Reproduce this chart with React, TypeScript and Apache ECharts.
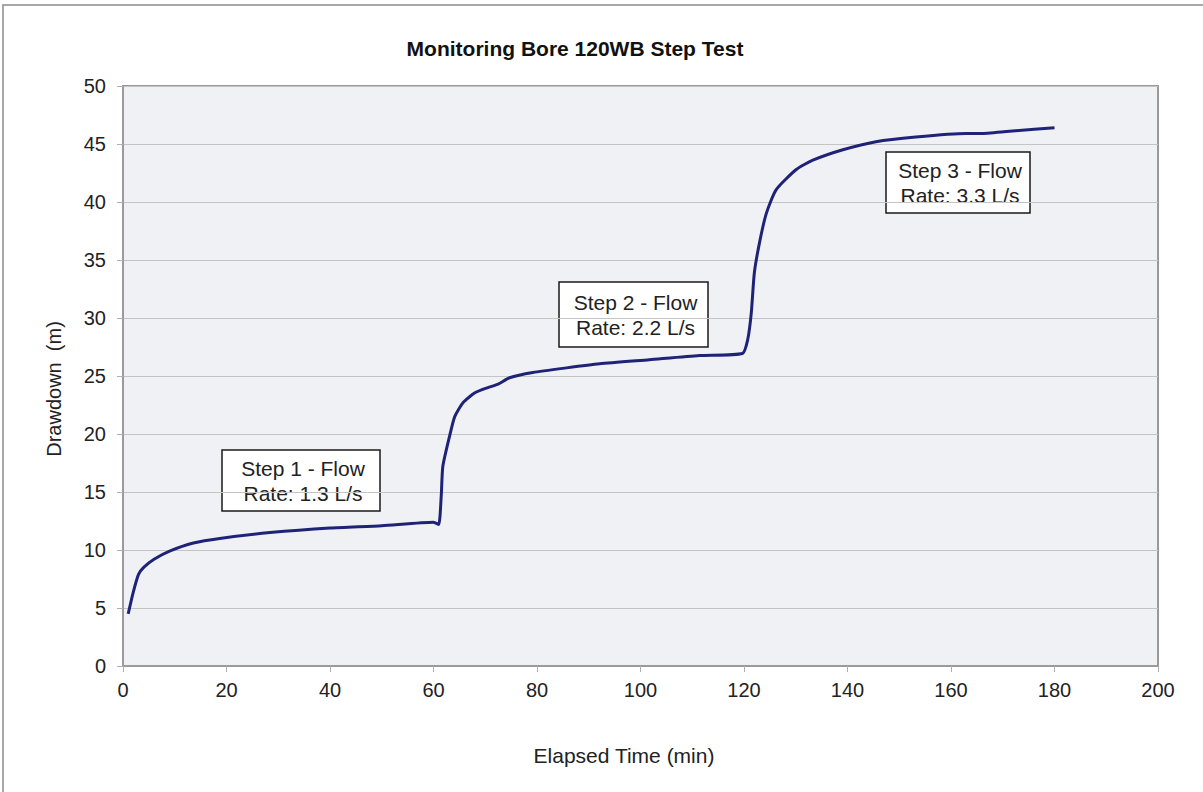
import React, { useEffect, useRef } from "react";
import * as echarts from "echarts";

const elapsedTime = [1, 2, 3, 4, 6, 9, 13.6, 18.7, 28.4, 40, 50, 60, 61, 61.5, 61.8, 63.1, 64.1, 65.7, 68, 70.5, 72.5, 74.7, 79.2, 85.7, 92.1, 101.7, 111.4, 119.7, 120.7, 121.4, 122, 123, 124.3, 126.2, 130.1, 133.3, 139.1, 145.5, 153.2, 162.9, 166, 172.5, 180];
const drawdown = [4.5, 6.4, 7.9, 8.5, 9.2, 9.9, 10.6, 11.0, 11.5, 11.9, 12.1, 12.4, 12.2, 14.7, 17.2, 19.8, 21.5, 22.7, 23.55, 24.0, 24.3, 24.85, 25.3, 25.7, 26.05, 26.4, 26.76, 26.94, 28.1, 30.4, 33.9, 36.5, 39.0, 41.05, 42.8, 43.6, 44.5, 45.2, 45.6, 45.9, 45.9, 46.15, 46.4];
const stepLabels = [
  ["Step 1 - Flow", "Rate: 1.3 L/s"],
  ["Step 2 - Flow", "Rate: 2.2 L/s"],
  ["Step 3 - Flow", "Rate: 3.3 L/s"],
];
const titleText = "Monitoring Bore 120WB Step Test";
const xName = "Elapsed Time (min)";
const yName = "Drawdown  (m)";

const FONT = "'Liberation Sans', Arial, sans-serif";

export default function App() {
  const ref = useRef<HTMLDivElement>(null);
  useEffect(() => {
    if (!ref.current) return;
    const chart = echarts.init(ref.current, null, { renderer: "svg" });
    const boxes = [
      { x: 222, y: 450, w: 158, h: 61 },
      { x: 559, y: 282, w: 149, h: 65 },
      { x: 886, y: 152, w: 144, h: 61 },
    ];
    const boxGraphics = boxes.map((b, i) => ({
      type: "group",
      children: [
        {
          type: "rect",
          shape: { x: b.x, y: b.y, width: b.w, height: b.h },
          style: { fill: "#ffffff", stroke: "#1a1a1a", lineWidth: 1.5 },
        },
        {
          type: "text",
          x: b.x + b.w / 2 + 2,
          y: b.y + b.h / 2,
          style: {
            text: stepLabels[i].join("\n"),
            fontFamily: FONT,
            fontSize: 21,
            lineHeight: 25,
            fill: "#222222",
            align: "center",
            verticalAlign: "middle",
          },
        },
      ],
    }));
    chart.setOption({
      animation: false,
      backgroundColor: "#ffffff",
      grid: {
        left: 123,
        right: 45,
        top: 86,
        bottom: 126,
        show: true,
        backgroundColor: "#F0F1F4",
        borderColor: "#9a9a9a",
        borderWidth: 2,
      },
      xAxis: {
        type: "value",
        min: 0,
        max: 200,
        interval: 20,
        axisLine: { show: true, lineStyle: { color: "#9a9a9a", width: 2 } },
        axisTick: { show: true, length: 6, lineStyle: { color: "#b0b0b0" } },
        axisLabel: { fontFamily: FONT, fontSize: 20, color: "#222", margin: 14 },
        splitLine: { show: false },
      },
      yAxis: {
        type: "value",
        min: 0,
        max: 50,
        interval: 5,
        axisLine: { show: true, lineStyle: { color: "#9a9a9a", width: 2 } },
        axisTick: { show: true, length: 6, lineStyle: { color: "#b0b0b0" } },
        axisLabel: { fontFamily: FONT, fontSize: 20, color: "#222", margin: 17 },
        splitLine: { show: true, lineStyle: { color: "#c4c4c4", width: 1.2 } },
      },
      series: [
        {
          type: "line",
          data: elapsedTime.map((t, i) => [t, drawdown[i]]),
          showSymbol: false,
          smooth: 0.2,
          lineStyle: { color: "#1F2377", width: 3 },
        },
      ],
      graphic: [
        {
          type: "rect",
          shape: { x: 3, y: 5, width: 1210, height: 810 },
          style: { fill: "none", stroke: "#8a8a8a", lineWidth: 1.5 },
          silent: true,
        },
        {
          type: "text",
          x: 575,
          y: 48,
          style: {
            text: titleText,
            fontFamily: FONT,
            fontSize: 21,
            fontWeight: "bold",
            fill: "#111",
            align: "center",
            verticalAlign: "middle",
          },
        },
        {
          type: "text",
          x: 624,
          y: 755,
          style: {
            text: xName,
            fontFamily: FONT,
            fontSize: 21,
            fill: "#222",
            align: "center",
            verticalAlign: "middle",
          },
        },
        {
          type: "text",
          x: 54,
          y: 389,
          rotation: Math.PI / 2,
          style: {
            text: yName,
            fontFamily: FONT,
            fontSize: 20,
            fill: "#222",
            align: "center",
            verticalAlign: "middle",
          },
        },
        ...boxGraphics,
      ],
    });
    return () => chart.dispose();
  }, []);
  return (
    <div
      ref={ref}
      style={{ position: "fixed", left: 0, top: 0, width: 1203, height: 792 }}
    />
  );
}
